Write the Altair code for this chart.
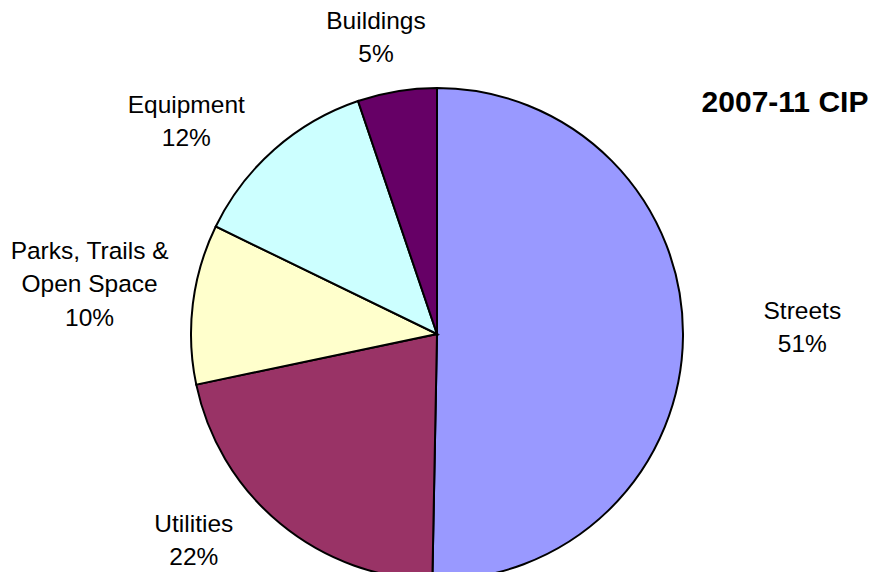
import altair as alt
import pandas as pd

# ---- data ----
categories = ["Streets", "Utilities", "Parks, Trails & Open Space", "Equipment", "Buildings"]
values = [50.3, 21.4, 10.5, 12.6, 5.2]          # slice sizes (share of total)
label_names = ["Streets", "Utilities", "Parks, Trails &\nOpen Space", "Equipment", "Buildings"]
pct_labels = ["51%", "22%", "10%", "12%", "5%"]
title_text = "2007-11 CIP"

# ---- style ----
colors = ["#9999FF", "#993366", "#FFFFCC", "#CCFFFF", "#660066"]
label_radius = [366, 309, 357, 339, 318]          # px from pie centre (first line)
label_nudge_deg = [-4.0, 12.3, 6.3, -6.3, -1.7]   # angular nudge of label
FONT = "Liberation Sans"
CX, CY, R = 429, 326, 246

df = pd.DataFrame({
    "idx": list(range(len(categories))),
    "category": categories,
    "value": values,
    "label": [n + "\n" + p for n, p in zip(label_names, pct_labels)],
    "lr": label_radius,
    "nudge": label_nudge_deg,
})

base = alt.Chart(df)

pie = base.mark_arc(outerRadius=R, stroke="black", strokeWidth=2).encode(
    theta=alt.Theta("value:Q", stack=True),
    color=alt.Color("category:N", scale=alt.Scale(domain=categories, range=colors), legend=None),
    order=alt.Order("idx:Q"),
    x=alt.value(CX),
    y=alt.value(CY),
)

labels = base.transform_joinaggregate(
    total="sum(value)"
).transform_window(
    cum="sum(value)", sort=[alt.SortField("idx")]
).transform_calculate(
    mid="((datum.cum - datum.value/2)/datum.total)*2*PI + datum.nudge*PI/180"
).mark_text(
    font=FONT, fontSize=24.5, lineHeight=33.5, lineBreak="\n", color="black",
    align="center", baseline="middle",
).encode(
    theta=alt.Theta("mid:Q", scale=None),
    radius=alt.Radius("lr:Q", scale=None),
    text="label:N",
    x=alt.value(CX),
    y=alt.value(CY),
)

title = alt.Chart(pd.DataFrame({"t": [title_text]})).mark_text(
    font=FONT, fontSize=30, fontWeight="bold", color="black",
    align="center", baseline="middle",
).encode(text="t:N", x=alt.value(777), y=alt.value(95))

chart = alt.layer(pie, labels, title).properties(
    width=861, height=564,
    autosize=alt.AutoSizeParams(type="none"),
    padding=0,
).configure_view(stroke=None)

chart.save("out.html", embed_options={"renderer": "svg", "actions": False})
